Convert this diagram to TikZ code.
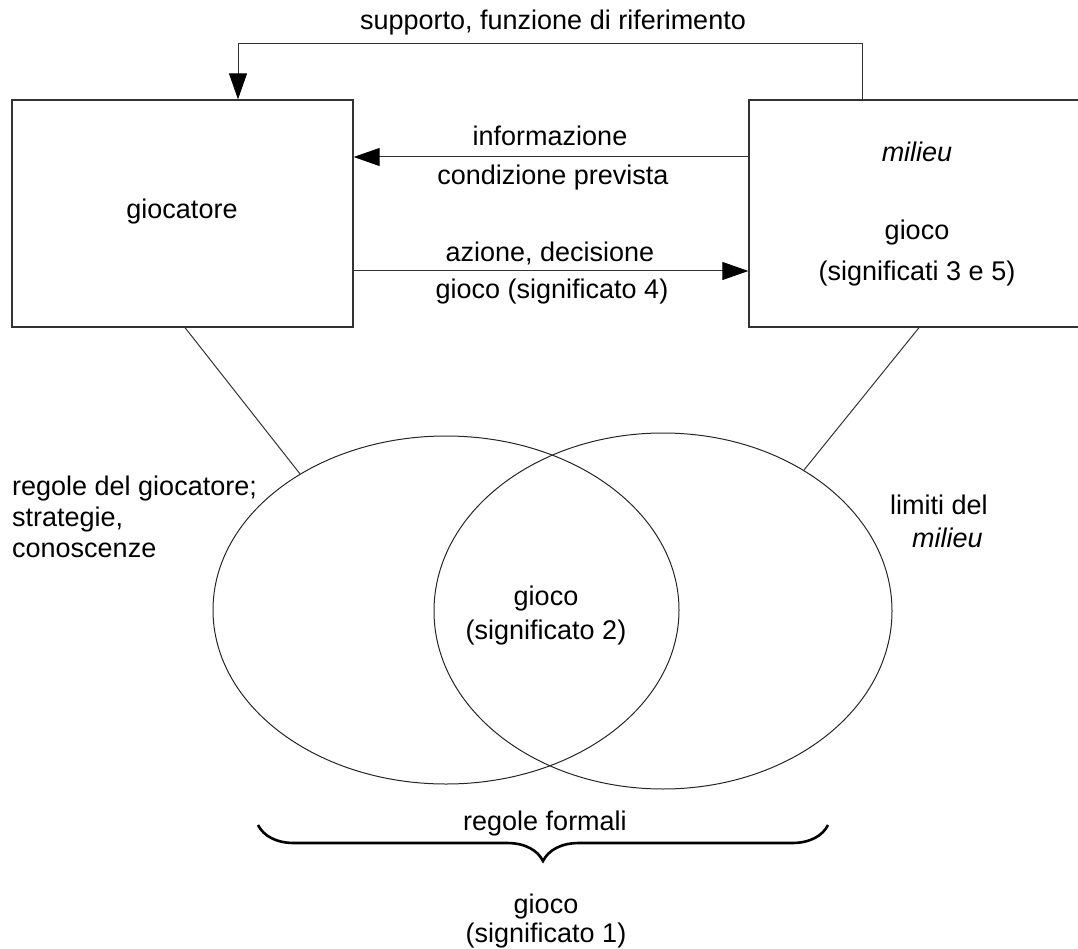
\documentclass[tikz,border=0pt]{standalone}
\usepackage{fontspec}
\setmainfont{Liberation Sans}
\usetikzlibrary{arrows.meta,decorations.pathreplacing,shapes.geometric}
\begin{document}
\begin{tikzpicture}[x=1pt,y=-1pt,
  box/.style={draw=black!80, line width=1.3pt, minimum width=341pt, minimum height=227pt, inner sep=0pt},
  txt/.style={font=\fontsize{27}{31}\selectfont, inner sep=0pt, anchor=base},
  ltxt/.style={txt, anchor=base west},
  conn/.style={draw=black!80, line width=1pt},
  arr/.style={conn, -{Triangle[length=26pt, width=18pt, color=black]}},
  oval/.style={ellipse, draw=black!85, line width=1pt, inner sep=0pt},
  bracestyle/.style={draw=black, line width=2.6pt, decorate, decoration={brace, amplitude=36pt}},
]
\useasboundingbox (0,0) rectangle (1078,949);
% boxes
\node[box] (player) at (182.5,213.5) {};
\node[box, minimum width=400pt] (env) at (949,213.5) {};
% ellipses
\node[oval, minimum width=466pt, minimum height=348pt] (eL) at (446,610) {};
\node[oval, minimum width=458pt, minimum height=356pt] (eR) at (663,611) {};
% connector coordinates
\coordinate (a1) at (862,44);
\coordinate (a2) at (238,44);
\coordinate (yi) at (0,157);
\coordinate (ya) at (0,271);
\coordinate (lx) at (185,0);
\coordinate (rx) at (919,0);
% connectors
\draw[arr] (env.north -| a1) -- (a1) -- (a2) -- (player.north -| a2);
\draw[arr] (env.west |- yi) -- (player.east |- yi);
\draw[arr] (player.east |- ya) -- (env.west |- ya);
\draw[conn] (player.south -| lx) -- (eL.137);
\draw[conn] (env.south -| rx) -- (eR.45.6);
% brace
\coordinate (b1) at (828,825);
\coordinate (b2) at (258,825);
\draw[bracestyle] (b1) -- (b2);
% texts
\node[txt] (t1) at (553,30) {supporto, funzione di riferimento};
\node[txt] (t2) at (550,146) {informazione};
\node[txt] (t3) at (553,185) {condizione prevista};
\node[txt] (t4) at (550,262) {azione, decisione};
\node[txt] (t5) at (552,299) {gioco (significato 4)};
\node[txt] (t6) at (182,219) {giocatore};
\node[txt] (t7) at (917,162) {\itshape milieu};
\node[txt] (t8) at (917,240) {gioco};
\node[txt] (t9) at (917,281) {(significati 3 e 5)};
\node[ltxt] (t10) at (12,495) {regole del giocatore;};
\node[ltxt] (t11) at (12,526) {strategie,};
\node[ltxt] (t12) at (12,557) {conoscenze};
\node[ltxt] (t13) at (890,514) {limiti del};
\node[ltxt] (t14) at (912,547) {\itshape milieu};
\node[txt] (t15) at (546,605) {gioco};
\node[txt] (t16) at (546,639) {(significato 2)};
\node[txt] (t17) at (545,830) {regole formali};
\node[txt] (t18) at (546,913) {gioco};
\node[txt] (t19) at (546,942) {(significato 1)};
\end{tikzpicture}
\end{document}
